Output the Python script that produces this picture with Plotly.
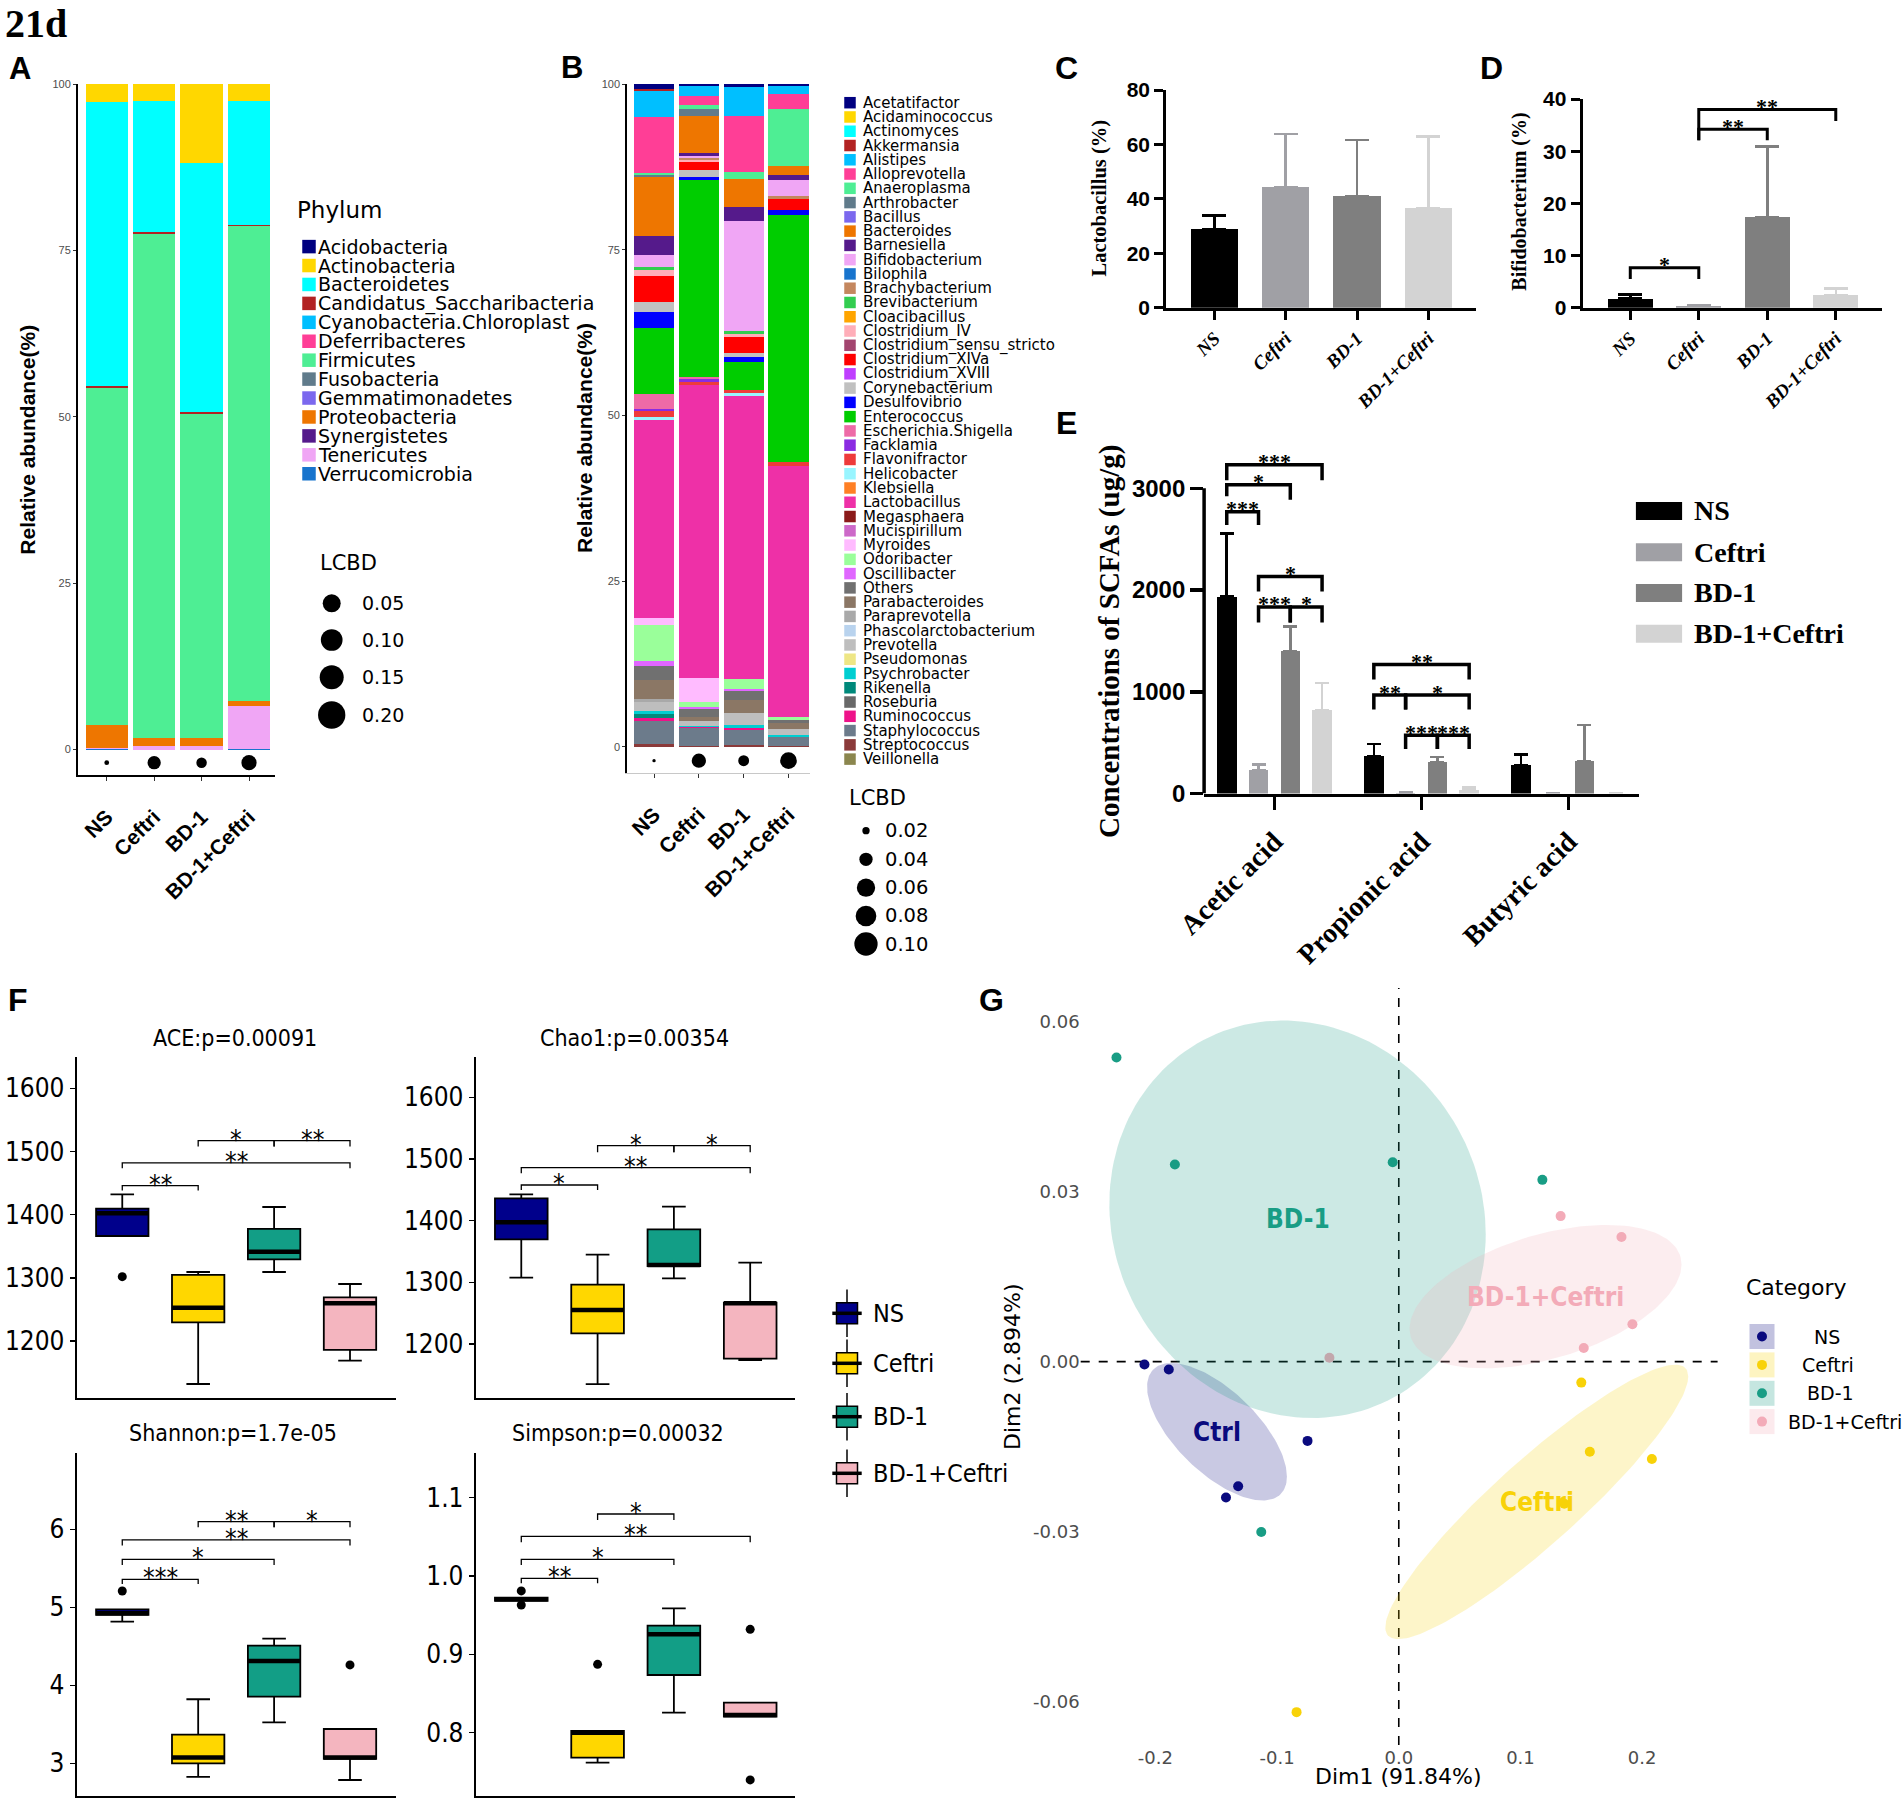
import numpy as np
import plotly.graph_objects as go

W, H = 1904, 1800

# ------------------------------------------------------------------ data
GROUPS = ["NS", "Ceftri", "BD-1", "BD-1+Ceftri"]

# Panel A : phylum level relative abundance (%)
PHYLA = ["Acidobacteria", "Actinobacteria", "Bacteroidetes", "Candidatus_Saccharibacteria",
         "Cyanobacteria.Chloroplast", "Deferribacteres", "Firmicutes", "Fusobacteria",
         "Gemmatimonadetes", "Proteobacteria", "Synergistetes", "Tenericutes", "Verrucomicrobia"]
PHYLUM_COLORS = ["#000080", "#FFD700", "#00FFFF", "#B22222", "#00BFFF", "#FF3E96", "#4EEE94",
                 "#607B8B", "#7B68EE", "#EE7600", "#551A8B", "#F0A6F5", "#1874CD"]
PHYLUM_NS = [0, 2.7, 42.7, 0.35, 0, 0, 50.6, 0, 0, 3.45, 0, 0.1, 0.1]
PHYLUM_CEFTRI = [0, 2.6, 19.6, 0.3, 0, 0, 75.8, 0, 0, 1.1, 0, 0.6, 0]
PHYLUM_BD1 = [0, 11.8, 37.5, 0.3, 0, 0, 48.6, 0, 0, 1.2, 0, 0.6, 0]
PHYLUM_BD1C = [0, 2.5, 18.7, 0.2, 0, 0, 71.3, 0, 0, 0.8, 0, 6.35, 0.15]
LCBD_A = [0.05, 0.14, 0.11, 0.16]
LCBD_A_BREAKS = ["0.05", "0.10", "0.15", "0.20"]

# Panel B : genus level relative abundance (%)
GENERA = ["Acetatifactor", "Acidaminococcus", "Actinomyces", "Akkermansia", "Alistipes",
          "Alloprevotella", "Anaeroplasma", "Arthrobacter", "Bacillus", "Bacteroides",
          "Barnesiella", "Bifidobacterium", "Bilophila", "Brachybacterium", "Brevibacterium",
          "Cloacibacillus", "Clostridium_IV", "Clostridium_sensu_stricto", "Clostridium_XIVa",
          "Clostridium_XVIII", "Corynebacterium", "Desulfovibrio", "Enterococcus",
          "Escherichia.Shigella", "Facklamia", "Flavonifractor", "Helicobacter", "Klebsiella",
          "Lactobacillus", "Megasphaera", "Mucispirillum", "Myroides", "Odoribacter",
          "Oscillibacter", "Others", "Parabacteroides", "Paraprevotella",
          "Phascolarctobacterium", "Prevotella", "Pseudomonas", "Psychrobacter", "Rikenella",
          "Roseburia", "Ruminococcus", "Staphylococcus", "Streptococcus", "Veillonella"]
GENUS_COLORS = ["#000080", "#FFD700", "#00FFFF", "#B22222", "#00BFFF", "#FF3E96", "#4EEE94",
                "#607B8B", "#7B68EE", "#EE7600", "#551A8B", "#F0A6F5", "#1874CD", "#C4875F",
                "#32CD50", "#FFA500", "#FFAEB9", "#A3456F", "#FF0000", "#BF3EFF", "#C0C0C0",
                "#0000FF", "#00CD00", "#EE6AA7", "#8A2BE2", "#EE3B3B", "#98F5FF", "#FF7F24",
                "#EE30A7", "#8B1A1A", "#CD69C9", "#FFBBFF", "#9AFF9A", "#E066FF", "#707070",
                "#8B7765", "#A9A9A9", "#B9D3EE", "#BEBEBE", "#EEE685", "#00CED1", "#00897B",
                "#696969", "#EE1289", "#6C7B8B", "#8B3A3A", "#8B864E"]
GENUS_NS = {"Acetatifactor": 0.8, "Akkermansia": 0.3, "Alistipes": 4.0, "Alloprevotella": 8.4,
            "Anaeroplasma": 0.25, "Arthrobacter": 0.35, "Bacteroides": 8.95, "Barnesiella": 2.85,
            "Bifidobacterium": 1.75, "Brevibacterium": 0.5, "Clostridium_IV": 0.9,
            "Clostridium_XIVa": 3.85, "Corynebacterium": 1.6, "Desulfovibrio": 2.4,
            "Enterococcus": 9.9, "Escherichia.Shigella": 2.25, "Facklamia": 0.4,
            "Flavonifractor": 0.85, "Helicobacter": 0.5, "Lactobacillus": 29.8, "Myroides": 1.05,
            "Odoribacter": 5.4, "Oscillibacter": 0.75, "Others": 2.25, "Parabacteroides": 2.85,
            "Paraprevotella": 0.4, "Prevotella": 1.4, "Psychrobacter": 0.35, "Rikenella": 0.6,
            "Ruminococcus": 0.5, "Staphylococcus": 3.55, "Streptococcus": 0.35}
GENUS_CEFTRI = {"Acetatifactor": 0.3, "Alistipes": 1.45, "Alloprevotella": 1.4, "Anaeroplasma": 0.6,
                "Arthrobacter": 1.15, "Bacteroides": 5.5, "Barnesiella": 0.5, "Bifidobacterium": 0.3,
                "Brachybacterium": 0.2, "Clostridium_IV": 0.35, "Clostridium_XIVa": 1.3,
                "Corynebacterium": 0.95, "Desulfovibrio": 0.55, "Enterococcus": 29.7,
                "Escherichia.Shigella": 0.2, "Facklamia": 0.45, "Flavonifractor": 0.45,
                "Lactobacillus": 44.3, "Myroides": 3.55, "Odoribacter": 0.85, "Oscillibacter": 0.25,
                "Others": 1.25, "Parabacteroides": 0.6, "Prevotella": 0.65, "Psychrobacter": 0.25,
                "Ruminococcus": 0.1, "Staphylococcus": 2.75, "Streptococcus": 0.1}
GENUS_BD1 = {"Acetatifactor": 0.4, "Alistipes": 4.4, "Alloprevotella": 8.4, "Anaeroplasma": 1.1,
             "Bacteroides": 4.2, "Barnesiella": 2.1, "Bifidobacterium": 16.6, "Brevibacterium": 0.5,
             "Clostridium_IV": 0.4, "Clostridium_XIVa": 2.5, "Corynebacterium": 0.6,
             "Desulfovibrio": 0.75, "Enterococcus": 4.1, "Flavonifractor": 0.6, "Helicobacter": 0.35,
             "Lactobacillus": 42.8, "Odoribacter": 1.4, "Oscillibacter": 0.4, "Others": 1.35,
             "Parabacteroides": 1.9, "Prevotella": 1.75, "Psychrobacter": 0.5, "Ruminococcus": 0.35,
             "Staphylococcus": 2.25, "Streptococcus": 0.25}
GENUS_BD1C = {"Acetatifactor": 0.25, "Alistipes": 1.3, "Alloprevotella": 2.2, "Anaeroplasma": 8.6,
              "Bacteroides": 1.4, "Barnesiella": 0.8, "Bifidobacterium": 2.3, "Brachybacterium": 0.5,
              "Clostridium_XIVa": 1.7, "Desulfovibrio": 0.65, "Enterococcus": 37.3,
              "Flavonifractor": 0.65, "Lactobacillus": 37.9, "Odoribacter": 0.45, "Others": 0.4,
              "Parabacteroides": 1.0, "Prevotella": 0.9, "Psychrobacter": 0.25,
              "Staphylococcus": 1.35, "Streptococcus": 0.1}
LCBD_B = [0.02, 0.085, 0.065, 0.10]
LCBD_B_BREAKS = ["0.02", "0.04", "0.06", "0.08", "0.10"]

# Panel C / D
LACTO_MEAN = [28.9, 44.4, 40.9, 36.5]
LACTO_SD = [4.9, 19.4, 20.7, 26.4]
BIFIDO_MEAN = [1.73, 0.3, 17.3, 2.36]
BIFIDO_SD = [0.77, 0.15, 13.6, 1.28]
# (group i1, group i2, bar height, left leg end, right leg end, label)
BIFIDO_SIG = [(0, 1, 7.67, 5.5, 5.5, "*"), (1, 2, 34.2, 32.1, 32.1, "**"),
              (1, 3, 38.0, 32.1, 35.8, "**")]

# Panel E : SCFAs (ug/g)
SCFA = ["Acetic acid", "Propionic acid", "Butyric acid"]
SCFA_NS = [1935, 371, 279]
SCFA_NS_SD = [623, 117, 106]
SCFA_CEFTRI = [230, 8, 0]
SCFA_CEFTRI_SD = [53, 0, 0]
SCFA_BD1 = [1403, 307, 318]
SCFA_BD1_SD = [237, 53, 357]
SCFA_BD1C = [820, 32, 0]
SCFA_BD1C_SD = [268, 28, 0]
# (acid, group i1, group i2, bar height, left leg end, right leg end, label)
SCFA_SIG = [(0, 0, 3, 3233, 3081, 3081, "***"), (0, 0, 2, 3035, 2922, 2887, "*"),
            (0, 0, 1, 2770, 2640, 2640, "***"), (0, 1, 3, 2134, 1986, 1986, "*"),
            (0, 1, 2, 1834, 1682, 1682, "***"), (0, 2, 3, 1834, 1682, 1682, "*"),
            (1, 0, 3, 1269, 1120, 1120, "**"), (1, 0, 1, 968, 827, 827, "**"),
            (1, 1, 3, 968, 827, 827, "*"), (1, 1, 2, 572, 438, 438, "***"),
            (1, 2, 3, 572, 438, 438, "***")]

# Panel F : alpha diversity box statistics (NS, Ceftri, BD-1, BD-1+Ceftri)
ACE = dict(q1=[1366.2, 1229.6, 1329.3, 1185.8], med=[1402.1, 1252.8, 1341.4, 1259.6],
           q3=[1409.5, 1304.5, 1377.3, 1269.1], lo=[1366.2, 1131.9, 1309.2, 1168.9],
           hi=[1432.2, 1309.2, 1412.1, 1290.2], out=[[1301.8], [], [], []])
CHAO1 = dict(q1=[1369.7, 1217.3, 1326.5, 1176.2], med=[1397.3, 1255.1, 1328.1, 1265.9],
             q3=[1436.2, 1296.2, 1385.9, 1267.0], lo=[1307.6, 1135.1, 1306.5, 1174.1],
             hi=[1442.7, 1344.9, 1422.7, 1331.9], out=[[], [], [], []])
SHANNON = dict(q1=[4.902, 3.0, 3.855, 3.056], med=[4.923, 3.073, 4.312, 3.073],
               q3=[4.974, 3.368, 4.509, 3.440], lo=[4.816, 2.825, 3.526, 2.786],
               hi=[4.974, 3.821, 4.598, 3.440], out=[[5.209], [], [], [4.261]])
SIMPSON = dict(q1=[0.9681, 0.7681, 0.8736, 0.8204], med=[0.9702, 0.800, 0.9255, 0.8226],
               q3=[0.9723, 0.8021, 0.9366, 0.8383], lo=[0.9681, 0.7617, 0.8255, 0.8204],
               hi=[0.9723, 0.8021, 0.9587, 0.8383], out=[[0.9809, 0.9630], [0.8872], [], [0.9319, 0.7396]])
# (group i1, group i2 [1-based], bar height, leg end, label)
ACE_SIG = [(1, 2, 1445.9, 1438.0, "**"), (1, 4, 1481.8, 1473.4, "**"),
           (2, 3, 1517.2, 1507.7, "*"), (3, 4, 1517.2, 1507.7, "**")]
CHAO1_SIG = [(1, 2, 1457.8, 1449.7, "*"), (1, 4, 1485.9, 1476.8, "**"),
             (2, 3, 1521.6, 1510.8, "*"), (3, 4, 1521.6, 1510.8, "*")]
SHANNON_SIG = [(1, 2, 5.359, 5.299, "***"), (1, 3, 5.615, 5.543, "*"), (1, 4, 5.863, 5.791, "**"),
               (2, 3, 6.098, 6.026, "**"), (3, 4, 6.098, 6.026, "*")]
SIMPSON_SIG = [(1, 2, 0.9970, 0.9906, "**"), (1, 3, 1.0213, 1.0140, "*"),
               (1, 4, 1.0506, 1.0430, "**"), (2, 3, 1.0791, 1.0715, "*")]

# Panel G : PCoA scores
G_LABELS = ["Ctrl", "Ceftri", "BD-1", "BD-1+Ceftri"]
DIM1 = [[-0.209, -0.189, -0.075, -0.132, -0.142],
        [0.150, 0.157, 0.208, 0.136, -0.084],
        [-0.232, -0.184, -0.005, 0.118, -0.113],
        [0.133, 0.183, 0.192, 0.152, -0.057]]
DIM2 = [[-0.0005, -0.0014, -0.0140, -0.0220, -0.0240],
        [-0.0037, -0.0159, -0.0172, -0.0251, -0.0619],
        [0.0537, 0.0348, 0.0352, 0.0321, -0.0301],
        [0.0257, 0.0220, 0.0066, 0.0024, 0.0007]]

# ------------------------------------------------------------------ style
SERIF = "Liberation Serif, Times New Roman, serif"
SANS = "Liberation Sans, Arial, sans-serif"
NARROW = "Liberation Sans Narrow, Arial Narrow, Liberation Sans, sans-serif"
DJ = "DejaVu Sans, Verdana, sans-serif"
DJC = "DejaVu Sans Condensed, Liberation Sans Narrow, Roboto, Liberation Sans, sans-serif"
GRAYS = ["#000000", "#A0A0A5", "#7F7F7F", "#D3D3D3"]
BOX_COLORS = ["#00008B", "#FFD700", "#129E86", "#F4B5BF"]
G_COLORS = ["#0A0A7E", "#F8D208", "#199D85", "#F3ABB8"]
E_OFFSETS = [-0.324, -0.108, 0.108, 0.324]
X_IDX = list(range(len(GROUPS)))
NOLINE = dict(width=0)


def rgba(hexc, a):
    h = hexc.lstrip("#")
    return "rgba(%d,%d,%d,%.3f)" % (int(h[0:2], 16), int(h[2:4], 16), int(h[4:6], 16), a)


def px(x):
    return x / W


def py(y):
    return 1 - y / H


fig = go.Figure()
axes = {}
ann = []
shapes = []


def axis_pair(n, x0, x1, ytop, ybot, xkw, ykw):
    s = "" if n == 1 else str(n)
    axes["xaxis" + s] = dict(domain=[px(x0), px(x1)], anchor="y" + s, showgrid=False,
                             zeroline=False, fixedrange=True, automargin=False, **xkw)
    axes["yaxis" + s] = dict(domain=[py(ybot), py(ytop)], anchor="x" + s, showgrid=False,
                             zeroline=False, fixedrange=True, automargin=False, **ykw)
    return "x" + s, "y" + s


def text(x, y, s, size, family, color="black", xanchor="center", yanchor="middle",
         weight="normal", style="normal", angle=0):
    ann.append(dict(x=px(x), y=py(y), xref="paper", yref="paper", text=s, showarrow=False,
                    xanchor=xanchor, yanchor=yanchor, textangle=angle,
                    font=dict(size=size, family=family, color=color, weight=weight, style=style)))


def brackets(xa, ya, sig_xy, lw, size, family, weight, yshift):
    xs, ys = [], []
    for (xl, xr, yb, yl, yr, lab) in sig_xy:
        xs += [xl, xl, xr, xr, None]
        ys += [yl, yb, yb, yr, None]
        ann.append(dict(x=(xl + xr) / 2, y=yb, xref=xa, yref=ya, text=lab, showarrow=False,
                        yanchor="middle", yshift=yshift,
                        font=dict(size=size, family=family, weight=weight, color="black")))
    fig.add_trace(go.Scatter(x=xs, y=ys, mode="lines", line=dict(color="black", width=lw),
                             xaxis=xa, yaxis=ya, showlegend=False, hoverinfo="skip"))


# ------------------------------------------------------------------ panel A
stack_x = dict(tickmode="array", tickvals=X_IDX, ticktext=GROUPS, showline=True,
               ticks="outside", ticklen=4, tickwidth=1, tickcolor="#333333", tickangle=-45,
               tickfont=dict(family=SANS, size=21, weight="bold", color="black"),
               ticklabelstandoff=16)
stack_y = dict(tickvals=[0, 25, 50, 75, 100], showline=True, linecolor="black", linewidth=1.5,
               ticks="outside", ticklen=3, tickcolor="#333333",
               tickfont=dict(family=SANS, size=11, color="#4D4D4D"))
xa, ya = axis_pair(1, 77.5, 275, 84, 775,
                   dict(range=[-0.616, 3.548], linecolor="black", linewidth=1.5, **stack_x),
                   dict(range=[-3.83, 100], **stack_y))
phylum_table = [PHYLUM_NS, PHYLUM_CEFTRI, PHYLUM_BD1, PHYLUM_BD1C]
for j in reversed(range(len(PHYLA))):
    fig.add_trace(go.Bar(x=X_IDX, y=[row[j] for row in phylum_table], width=0.89,
                         marker=dict(color=PHYLUM_COLORS[j], line=NOLINE),
                         xaxis=xa, yaxis=ya, showlegend=False, hoverinfo="skip"))
fig.add_trace(go.Scatter(x=X_IDX, y=[-1.98] * 4, mode="markers",
                         marker=dict(size=[v * 95 for v in LCBD_A], color="#000000", opacity=1,
                                     line=NOLINE),
                         xaxis=xa, yaxis=ya, showlegend=False, hoverinfo="skip"))

# ------------------------------------------------------------------ panel B
xb, yb = axis_pair(2, 626.7, 810, 84, 772.7,
                   dict(range=[-0.61, 3.48], linecolor="#C8C8C8", linewidth=1.5, **stack_x),
                   dict(range=[-3.92, 100], **stack_y))
genus_table = [GENUS_NS, GENUS_CEFTRI, GENUS_BD1, GENUS_BD1C]
for j in reversed(range(len(GENERA))):
    vals = [tab.get(GENERA[j], 0) for tab in genus_table]
    if sum(vals) == 0:
        continue
    fig.add_trace(go.Bar(x=X_IDX, y=vals, width=0.893,
                         marker=dict(color=GENUS_COLORS[j], line=NOLINE),
                         xaxis=xb, yaxis=yb, showlegend=False, hoverinfo="skip"))
fig.add_trace(go.Scatter(x=X_IDX, y=[-2.11] * 4, mode="markers",
                         marker=dict(size=[v * 167 for v in LCBD_B], color="#000000", opacity=1,
                                     line=NOLINE),
                         xaxis=xb, yaxis=yb, showlegend=False, hoverinfo="skip"))

# ------------------------------------------------------------------ panels C and D
gp_x = dict(tickmode="array", tickvals=X_IDX, ticktext=GROUPS, showline=True, linecolor="black",
            linewidth=3, ticks="outside", ticklen=9, tickwidth=3, tickcolor="black", tickangle=-45,
            tickfont=dict(family=SERIF, size=19, weight="bold", style="italic", color="black"))
gp_y = dict(showline=True, linecolor="black", linewidth=3, ticks="outside", ticklen=9,
            tickwidth=3, tickcolor="black",
            tickfont=dict(family=NARROW, size=21, weight="bold", color="black"))
xc, yc = axis_pair(3, 1166.2, 1476.3, 90, 307.7, dict(range=[-0.676, 3.673], **gp_x),
                   dict(range=[0, 80], tickvals=[0, 20, 40, 60, 80], **gp_y))
xd, yd = axis_pair(4, 1582.6, 1881.6, 99, 307.7, dict(range=[-0.696, 3.669], **gp_x),
                   dict(range=[0, 40], tickvals=[0, 10, 20, 30, 40], **gp_y))
for (xax, yax, mean, sd) in [(xc, yc, LACTO_MEAN, LACTO_SD), (xd, yd, BIFIDO_MEAN, BIFIDO_SD)]:
    for i in X_IDX:
        fig.add_trace(go.Bar(x=[i], y=[mean[i]], width=0.66,
                             marker=dict(color=GRAYS[i], line=NOLINE),
                             error_y=dict(type="data", symmetric=False, array=[sd[i]],
                                          arrayminus=[0], color=GRAYS[i], thickness=2.5, width=12),
                             xaxis=xax, yaxis=yax, showlegend=False, hoverinfo="skip"))
brackets(xd, yd, [(a, b, y, l, r, t) for (a, b, y, l, r, t) in BIFIDO_SIG], 3, 22, SERIF, "bold", 3)

# ------------------------------------------------------------------ panel E
xe, ye = axis_pair(5, 1204.1, 1638.9, 442.6, 793.5,
                   dict(range=[-0.478, 2.478], tickmode="array", tickvals=[0, 1, 2], ticktext=SCFA,
                        showline=True, linecolor="black", linewidth=3.5, ticks="outside",
                        ticklen=13, tickwidth=3.5, tickcolor="black", tickangle=-45,
                        ticklabelstandoff=4,
                        tickfont=dict(family=SERIF, size=28, weight="bold", color="black")),
                   dict(range=[0, 3450], tickvals=[0, 1000, 2000, 3000], showline=False,
                        ticks="outside", ticklen=13, tickwidth=3.5, tickcolor="black",
                        tickfont=dict(family=NARROW, size=24, weight="bold", color="black")))
shapes.append(dict(type="line", xref="x5 domain", yref="y5", x0=0, x1=0, y0=0, y1=3000,
                   line=dict(color="black", width=3.5)))
scfa_series = [(SCFA_NS, SCFA_NS_SD), (SCFA_CEFTRI, SCFA_CEFTRI_SD), (SCFA_BD1, SCFA_BD1_SD),
               (SCFA_BD1C, SCFA_BD1C_SD)]
for s, (vals, sds) in enumerate(scfa_series):
    fig.add_trace(go.Bar(x=[g + E_OFFSETS[s] for g in range(len(SCFA))], y=vals, width=0.133,
                         marker=dict(color=GRAYS[s], line=NOLINE),
                         error_y=dict(type="data", symmetric=False, array=sds,
                                      arrayminus=[0] * len(sds), color=GRAYS[s], thickness=2.5,
                                      width=7),
                         xaxis=xe, yaxis=ye, showlegend=False, hoverinfo="skip"))
brackets(xe, ye, [(g + E_OFFSETS[a], g + E_OFFSETS[b], y, l, r, t)
                  for (g, a, b, y, l, r, t) in SCFA_SIG], 3.5, 22, SERIF, "bold", 3)

# ------------------------------------------------------------------ panel F
f_x = dict(showline=True, linecolor="black", linewidth=1.8, showticklabels=False, ticks="")
f_y = dict(showline=True, linecolor="black", linewidth=1.8, ticks="outside", ticklen=5,
           tickwidth=1.5, tickcolor="black", tickfont=dict(family=DJC, size=26, color="black"))
f_panels = [
    (6, 76.5, 395.7, 1057.3, 1398.3, [0.397, 4.602], [1109.3, 1649],
     [1200, 1300, 1400, 1500, 1600], None, ACE, ACE_SIG),
    (7, 475.5, 794.6, 1057.3, 1398.3, [0.4, 4.582], [1112, 1664.8],
     [1200, 1300, 1400, 1500, 1600], None, CHAO1, CHAO1_SIG),
    (8, 76.5, 395.7, 1453.3, 1796, [0.397, 4.602], [2.581, 6.974],
     [3, 4, 5, 6], None, SHANNON, SHANNON_SIG),
    (9, 475.5, 794.6, 1453.3, 1796, [0.4, 4.582], [0.7191, 1.1566],
     [0.8, 0.9, 1.0, 1.1], ["0.8", "0.9", "1.0", "1.1"], SIMPSON, SIMPSON_SIG),
]
BOX_W = 0.69
for (n, x0, x1, yt, ybm, xr, yr, tv, tt, st, sig) in f_panels:
    ykw = dict(range=yr, tickvals=tv, **f_y)
    if tt:
        ykw["ticktext"] = tt
    xf, yf = axis_pair(n, x0, x1, yt, ybm, dict(range=xr, **f_x), ykw)
    for i in X_IDX:
        fig.add_trace(go.Box(x=[i + 1], q1=[st["q1"][i]], median=[st["med"][i]], q3=[st["q3"][i]],
                             lowerfence=[st["lo"][i]], upperfence=[st["hi"][i]], width=BOX_W,
                             whiskerwidth=0.45, fillcolor=BOX_COLORS[i],
                             line=dict(color="black", width=1.8), boxpoints=False,
                             xaxis=xf, yaxis=yf, showlegend=False, hoverinfo="skip"))
    mx, my = [], []
    for i in X_IDX:
        mx += [i + 1 - BOX_W / 2, i + 1 + BOX_W / 2, None]
        my += [st["med"][i], st["med"][i], None]
    fig.add_trace(go.Scatter(x=mx, y=my, mode="lines", line=dict(color="black", width=4.5),
                             xaxis=xf, yaxis=yf, showlegend=False, hoverinfo="skip"))
    ox, oy = [], []
    for i in X_IDX:
        ox += [i + 1] * len(st["out"][i])
        oy += st["out"][i]
    fig.add_trace(go.Scatter(x=ox, y=oy, mode="markers",
                             marker=dict(color="#000000", size=9, line=NOLINE),
                             xaxis=xf, yaxis=yf, showlegend=False, hoverinfo="skip"))
    brackets(xf, yf, [(a, b, y, l, l, t) for (a, b, y, l, t) in sig], 1.3, 26, DJC, "normal", 1)

text(235.4, 1038.3, "ACE:p=0.00091", 23, DJC)
text(634.7, 1038.3, "Chao1:p=0.00354", 23, DJC)
text(232.8, 1433.3, "Shannon:p=1.7e-05", 23, DJC)
text(618.0, 1433.3, "Simpson:p=0.00032", 23, DJC)

# ------------------------------------------------------------------ panel G
xg, yg = axis_pair(10, 1080.7, 1717.6, 987.9, 1745,
                   dict(range=[-0.2614, 0.262], tickvals=[-0.2, -0.1, 0, 0.1, 0.2],
                        ticktext=["-0.2", "-0.1", "0.0", "0.1", "0.2"], showline=False,
                        tickfont=dict(family=DJ, size=18, color="#4D4D4D")),
                   dict(range=[-0.0677, 0.066], tickvals=[-0.06, -0.03, 0, 0.03, 0.06],
                        ticktext=["-0.06", "-0.03", "0.00", "0.03", "0.06"], showline=False,
                        tickfont=dict(family=DJ, size=18, color="#4D4D4D")))
shapes.append(dict(type="line", xref="x10 domain", yref="y10", x0=0, x1=1, y0=0, y1=0,
                   line=dict(color="black", width=1.6, dash="dash"), layer="below"))
shapes.append(dict(type="line", xref="x10", yref="y10 domain", x0=0, x1=0, y0=0, y1=1,
                   line=dict(color="black", width=1.6, dash="dash"), layer="below"))
for k in X_IDX:
    fig.add_trace(go.Scatter(x=DIM1[k], y=DIM2[k], mode="markers",
                             marker=dict(color=G_COLORS[k], size=10, line=NOLINE),
                             xaxis=xg, yaxis=yg, showlegend=False, hoverinfo="skip"))
ELLIPSE_K = 1.095
t = np.linspace(0, 2 * np.pi, 160)
for k in X_IDX:
    xs, ys = np.array(DIM1[k]), np.array(DIM2[k])
    L = np.linalg.cholesky(np.cov(xs, ys))
    e = L @ np.vstack([np.cos(t), np.sin(t)]) * ELLIPSE_K
    fig.add_trace(go.Scatter(x=xs.mean() + e[0], y=ys.mean() + e[1], mode="lines", fill="toself",
                             fillcolor=rgba(G_COLORS[k], 0.22), line=dict(width=0),
                             xaxis=xg, yaxis=yg, showlegend=False, hoverinfo="skip"))
for k in X_IDX:
    ann.append(dict(x=float(np.mean(DIM1[k])), y=float(np.mean(DIM2[k])), xref=xg, yref=yg,
                    text=G_LABELS[k], showarrow=False,
                    font=dict(family=DJC, size=26, weight="bold", color=G_COLORS[k])))
text(1398.8, 1776.5, "Dim1 (91.84%)", 22, DJ)
text(1012.6, 1366.4, "Dim2 (2.894%)", 22, DJ, angle=-90)

# ------------------------------------------------------------------ legends (overlay axis)
axes["xaxis11"] = dict(domain=[0, 1], range=[0, W], visible=False, fixedrange=True,
                       anchor="y11", automargin=False)
axes["yaxis11"] = dict(domain=[0, 1], range=[H, 0], visible=False, fixedrange=True,
                       anchor="x11", automargin=False)


def keys(xs, ys, **marker):
    marker.setdefault("opacity", 1)
    fig.add_trace(go.Scatter(x=xs, y=ys, mode="markers", marker=marker, xaxis="x11",
                             yaxis="y11", showlegend=False, hoverinfo="skip", cliponaxis=False))


# A legend
text(295, 210, "Phylum", 23, DJ, xanchor="left")
a_ys = [246.6 + i * 18.93 for i in range(len(PHYLA))]
keys([309] * len(PHYLA), a_ys, symbol="square", size=13.5, color=PHYLUM_COLORS, line=NOLINE)
for name, y in zip(PHYLA, a_ys):
    text(316, y, name, 19, DJ, xanchor="left")
text(317.6, 563, "LCBD", 21, DJ, xanchor="left")
a_ly = [603.3, 640, 677.3, 715]
keys([331.7] * 4, a_ly, size=[18, 21.7, 24, 27.3], color="#000000", line=NOLINE)
for lab, y in zip(LCBD_A_BREAKS, a_ly):
    text(360, y, lab, 19, DJ, xanchor="left")

# B legend
b_ys = [102.7 + i * 14.27 for i in range(len(GENERA))]
keys([850] * len(GENERA), b_ys, symbol="square", size=11.5, color=GENUS_COLORS, line=NOLINE)
for name, y in zip(GENERA, b_ys):
    text(861, y, name, 15, DJ, xanchor="left")
text(847.3, 798.3, "LCBD", 21, DJ, xanchor="left")
b_ly = [830.7, 859.3, 887.7, 916, 944]
keys([866] * 5, b_ly, size=[7.3, 13.3, 18.3, 20.7, 23.3], color="#000000", line=NOLINE)
for lab, y in zip(LCBD_B_BREAKS, b_ly):
    text(883, y, lab, 19.5, DJ, xanchor="left")

# E legend
e_ly = [511, 552.3, 592.9, 633.8]
keys([1659] * 4, e_ly, symbol="line-ew", size=33, line=dict(color=GRAYS, width=18))
for lab, y in zip(GROUPS, e_ly):
    text(1692, y, lab, 28, SERIF, xanchor="left", weight="bold")

# F legend
f_ly = [1313.3, 1363.3, 1416.7, 1473.3]
keys([847] * 4, f_ly, symbol="line-ns", size=34, line=dict(color="black", width=1.5))
keys([847] * 4, f_ly, symbol="square", size=21, color=BOX_COLORS, line=dict(color="black", width=1.5))
keys([847] * 4, f_ly, symbol="line-ew", size=21, line=dict(color="black", width=3.5))
for lab, y in zip(GROUPS, f_ly):
    text(871, y, lab, 25, DJC, xanchor="left")

# G legend
text(1744.2, 1287.6, "Category", 22, DJ, xanchor="left")
g_ly = [1336.5, 1364.9, 1393.3, 1421.6]
keys([1762] * 4, g_ly, symbol="square", size=25, color=[rgba(c, 0.25) for c in G_COLORS],
     line=NOLINE)
keys([1762] * 4, g_ly, size=10, color=G_COLORS, line=NOLINE)
for lab, y, cx in zip(GROUPS, g_ly, [1827, 1828, 1830, 1845]):
    text(cx, y, lab, 19, DJ)

# ------------------------------------------------------------------ titles & panel letters
text(3, 24, "21d", 40, SERIF, xanchor="left", weight="bold")
text(20, 68, "A", 31, SANS, weight="bold")
text(572, 67, "B", 31, SANS, weight="bold")
text(1066, 68, "C", 32, NARROW, weight="bold")
text(1491, 68, "D", 32, NARROW, weight="bold")
text(1066, 423, "E", 32, NARROW, weight="bold")
text(18.3, 1000, "F", 32, NARROW, weight="bold")
text(991, 1000, "G", 32, NARROW, weight="bold")
text(26.7, 440, "Relative abundance(%)", 21, SANS, weight="bold", angle=-90)
text(584, 438, "Relative abundance(%)", 21, SANS, weight="bold", angle=-90)
text(1099.2, 198.3, "Lactobacillus (%)", 20.5, SERIF, weight="bold", angle=-90)
text(1520, 201.7, "Bifidobacterium (%)", 20, SERIF, weight="bold", angle=-90)
text(1109, 642, "Concentrations of SCFAs (ug/g)", 29, SERIF, weight="bold", angle=-90)

fig.update_layout(width=W, height=H, autosize=False,
                  margin=dict(l=0, r=0, t=0, b=0, pad=0, autoexpand=False),
                  paper_bgcolor="white", plot_bgcolor="rgba(0,0,0,0)", barmode="stack",
                  showlegend=False, annotations=ann, shapes=shapes, **axes)
fig.write_html("out.html", config={"displayModeBar": False, "staticPlot": True},
               post_script="document.body.style.margin='0px';")
